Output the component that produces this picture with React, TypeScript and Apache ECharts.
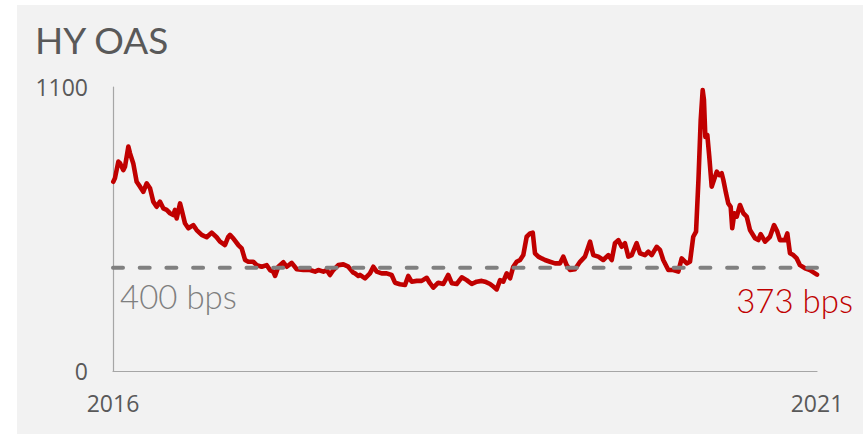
import React, { useEffect, useRef } from "react";
import * as echarts from "echarts";

// Time in years since 1 Jan 2016
const yearsSince2016: number[] = [
  0.002, 0.014, 0.038, 0.05, 0.073, 0.085, 0.109, 0.121, 0.144, 0.168,
  0.192, 0.215, 0.239, 0.263, 0.286, 0.31, 0.334, 0.357, 0.381, 0.405,
  0.428, 0.44, 0.452, 0.476, 0.488, 0.511, 0.535, 0.57, 0.594, 0.63,
  0.665, 0.701, 0.736, 0.76, 0.795, 0.819, 0.831, 0.854, 0.89, 0.914,
  0.938, 0.961, 0.996, 1.021, 1.056, 1.092, 1.115, 1.138, 1.151, 1.174,
  1.21, 1.234, 1.269, 1.305, 1.352, 1.399, 1.435, 1.458, 1.494, 1.518,
  1.541, 1.565, 1.6, 1.636, 1.671, 1.707, 1.719, 1.742, 1.754, 1.79,
  1.825, 1.849, 1.873, 1.908, 1.944, 1.979, 2.003, 2.038, 2.074, 2.097,
  2.121, 2.157, 2.192, 2.228, 2.251, 2.275, 2.31, 2.346, 2.381, 2.406,
  2.441, 2.477, 2.512, 2.548, 2.583, 2.619, 2.642, 2.678, 2.701, 2.725,
  2.749, 2.772, 2.796, 2.82, 2.843, 2.867, 2.891, 2.914, 2.938, 2.962,
  2.981, 2.997, 3.021, 3.045, 3.068, 3.104, 3.139, 3.175, 3.198, 3.222,
  3.246, 3.281, 3.317, 3.352, 3.388, 3.411, 3.447, 3.482, 3.518, 3.542,
  3.565, 3.589, 3.613, 3.636, 3.66, 3.684, 3.719, 3.743, 3.778, 3.802,
  3.826, 3.861, 3.885, 3.908, 3.944, 3.979, 4.015, 4.039, 4.075, 4.098,
  4.121, 4.141, 4.158, 4.174, 4.188, 4.197, 4.207, 4.221, 4.235, 4.252,
  4.268, 4.288, 4.306, 4.323, 4.335, 4.354, 4.37, 4.387, 4.398, 4.413,
  4.43, 4.453, 4.477, 4.501, 4.524, 4.56, 4.583, 4.6, 4.631, 4.666,
  4.695, 4.718, 4.737, 4.773, 4.789, 4.808, 4.832, 4.856, 4.879, 4.915,
  4.95, 4.986, 5.0,
];

// HY option-adjusted spread, bps
const spreads: number[] = [
  733, 747, 811, 805, 778, 791, 869, 843, 804, 733,
  714, 694, 727, 708, 656, 636, 656, 630, 624, 611,
  604, 624, 591, 649, 624, 572, 553, 565, 546, 527,
  518, 536, 518, 501, 488, 520, 527, 514, 488, 475,
  430, 423, 423, 410, 404, 410, 391, 385, 368, 404,
  421, 404, 419, 394, 391, 391, 385, 391, 385, 391,
  372, 391, 410, 413, 404, 381, 378, 368, 372, 359,
  378, 404, 385, 378, 378, 372, 342, 336, 333, 368,
  346, 349, 349, 361, 340, 323, 342, 337, 372, 340,
  337, 363, 352, 337, 346, 349, 346, 337, 327, 316,
  352, 346, 378, 359, 404, 423, 430, 449, 520, 533,
  536, 456, 443, 436, 430, 423, 417, 417, 443, 410,
  391, 394, 423, 443, 501, 449, 443, 430, 449, 430,
  495, 507, 481, 495, 443, 449, 495, 456, 449, 462,
  449, 481, 469, 430, 391, 391, 385, 436, 417, 423,
  520, 540, 740, 972, 1088, 1050, 907, 914, 830, 714,
  740, 772, 759, 766, 740, 688, 649, 636, 553, 611,
  598, 643, 611, 598, 546, 514, 507, 530, 501, 520,
  565, 540, 507, 507, 533, 456, 449, 436, 410, 398,
  391, 378, 373,
];

const startYear = 2016;
const endYear = 2021;
const yTicks = [0, 1100];
const threshold = 400;
const titleText = "HY OAS";
const thresholdLabel = "400 bps";
const latestLabel = "373 bps";

const RED = "#c00000";
const GREY_TEXT = "#595959";

export default function App() {
  const ref = useRef<HTMLDivElement>(null);

  useEffect(() => {
    if (!ref.current) return;
    const chart = echarts.init(ref.current, null, { renderer: "svg" });
    const lineData = yearsSince2016.map((t, i) => [startYear + t, spreads[i]]);
    chart.setOption({
      animation: false,
      backgroundColor: "transparent",
      grid: { left: 113, right: 49, top: 87, bottom: 63, containLabel: false },
      xAxis: {
        type: "value",
        min: startYear,
        max: endYear,
        interval: 1,
        axisLine: { show: true, lineStyle: { color: "#a6a6a6", width: 1.2 } },
        axisTick: { show: false },
        splitLine: { show: false },
        axisLabel: {
          margin: 20,
          fontFamily: "Open Sans",
          fontSize: 23,
          color: GREY_TEXT,
          formatter: (v: number) =>
            v === startYear || v === endYear ? String(v) : "",
        },
      },
      yAxis: {
        type: "value",
        min: yTicks[0],
        max: yTicks[1],
        interval: yTicks[1] - yTicks[0],
        axisLine: { show: true, lineStyle: { color: "#a6a6a6", width: 1.2 } },
        axisTick: { show: false },
        splitLine: { show: false },
        axisLabel: {
          margin: 25,
          fontFamily: "Open Sans",
          fontSize: 23,
          color: GREY_TEXT,
          formatter: (v: number) => String(v),
        },
      },
      series: [
        {
          type: "line",
          data: lineData,
          showSymbol: false,
          symbol: "none",
          lineStyle: { color: RED, width: 4.6, join: "round", cap: "round" },
          z: 2,
        },
        {
          type: "line",
          data: [
            [startYear, threshold],
            [endYear, threshold],
          ],
          symbol: "none",
          lineStyle: {
            color: "#808080",
            width: 4,
            type: [10, 16.7],
            cap: "round",
          },
          z: 3,
        },
      ],
      graphic: [
        {
          type: "text",
          left: 35,
          top: 21,
          style: {
            text: titleText,
            fontFamily: "Lato",
            fontSize: 37,
            fill: GREY_TEXT,
          },
        },
        {
          type: "text",
          left: 120,
          top: 279,
          style: {
            text: thresholdLabel,
            fontFamily: "Lato",
            fontWeight: 300,
            fontSize: 33,
            fill: "#7f7f7f",
          },
        },
        {
          type: "text",
          right: 13,
          top: 283,
          style: {
            text: latestLabel,
            fontFamily: "Lato",
            fontWeight: 300,
            fontSize: 33,
            fill: RED,
          },
        },
      ],
    });
    return () => chart.dispose();
  }, []);

  return (
    <div
      style={{
        position: "fixed",
        left: 0,
        top: 0,
        width: 866,
        height: 434,
        background: "#ffffff",
      }}
    >
      <div
        style={{
          position: "absolute",
          left: 17,
          top: 5,
          width: 846,
          height: 429,
          background: "#f2f2f2",
        }}
      />
      <div
        ref={ref}
        style={{ position: "absolute", left: 0, top: 0, width: 866, height: 434 }}
      />
    </div>
  );
}
